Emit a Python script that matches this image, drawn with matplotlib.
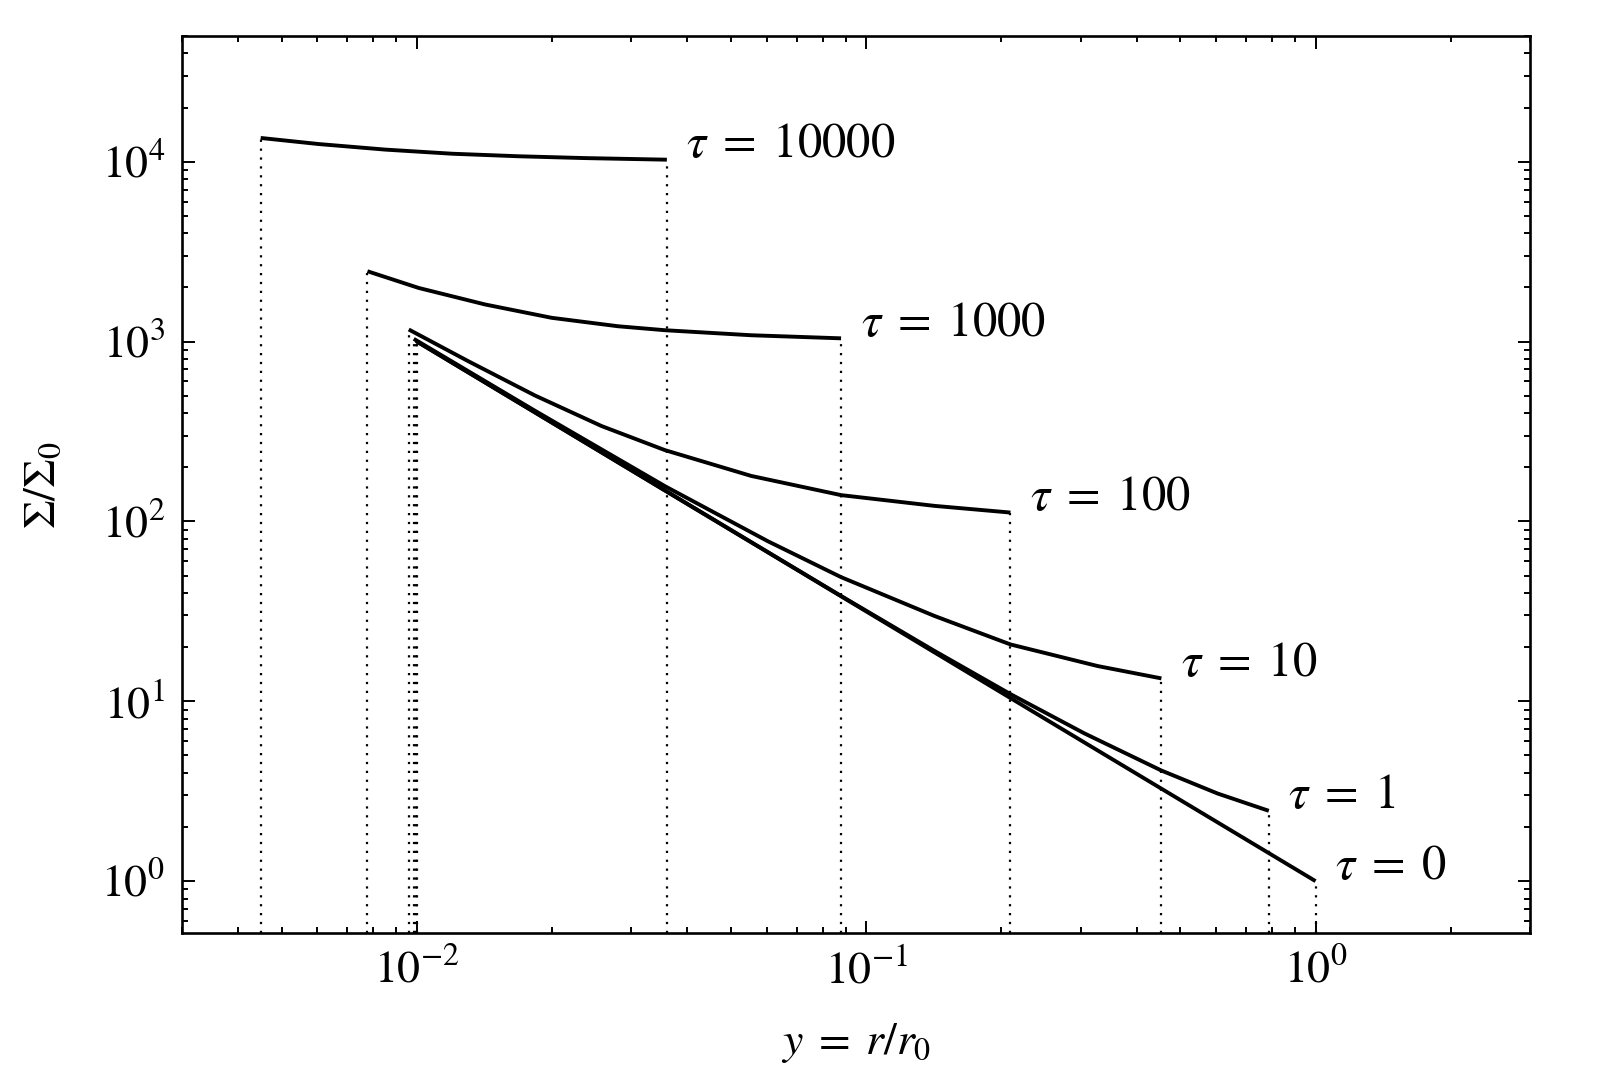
import matplotlib
matplotlib.use("Agg")
import matplotlib.pyplot as plt
from matplotlib.ticker import LogLocator, NullFormatter

plt.rcParams['font.family'] = 'serif'
plt.rcParams['font.serif'] = ['STIXGeneral', 'Liberation Serif', 'DejaVu Serif']
plt.rcParams['mathtext.fontset'] = 'stix'

# ---- data (y = r/r0, Sigma/Sigma0) ----
tau_labels = ["10000", "1000", "100", "10", "1", "0"]

x_tau10000 = [0.00449, 0.00605, 0.00851, 0.0120, 0.0168, 0.0237, 0.0360]
s_tau10000 = [13550, 12530, 11670, 11070, 10720, 10470, 10260]

x_tau1000 = [0.00776, 0.01009, 0.01419, 0.01995, 0.02805, 0.03565, 0.05546, 0.0879]
s_tau1000 = [2460, 1986, 1607, 1355, 1216, 1156, 1084, 1042]

x_tau100 = [0.00959, 0.01303, 0.01832, 0.02576, 0.03565, 0.05546, 0.0879, 0.1419, 0.2094]
s_tau100 = [1167, 776, 501, 339, 249, 179, 140, 122, 112]

x_tau10 = [0.00984, 0.01832, 0.03565, 0.0604, 0.0879, 0.1419, 0.2094, 0.3273, 0.4539]
s_tau10 = [1035, 412, 157, 77.6, 49.0, 29.8, 20.7, 15.7, 13.4]

x_tau1 = [0.00995, 0.03565, 0.0879, 0.1419, 0.2094, 0.3055, 0.4539, 0.6053, 0.787]
s_tau1 = [1007, 148.6, 38.5, 19.05, 10.96, 6.64, 4.12, 3.07, 2.46]

x_tau0 = [0.01, 0.0316, 0.1, 0.316, 1.0]
s_tau0 = [1000, 178, 31.6, 5.62, 1.0]

xs = [x_tau10000, x_tau1000, x_tau100, x_tau10, x_tau1, x_tau0]
ss = [s_tau10000, s_tau1000, s_tau100, s_tau10, s_tau1, s_tau0]

xlim = (3.0e-3, 3.0)
ylim = (0.514, 5.0e4)

fig = plt.figure(figsize=(16.02, 10.8), dpi=100)
ax = fig.add_axes([0.1136, 0.136, 0.955 - 0.1136, 0.9667 - 0.136])
ax.set_xscale('log')
ax.set_yscale('log')
ax.set_xlim(*xlim)
ax.set_ylim(*ylim)

for x, s, lab in zip(xs, ss, tau_labels):
    # dotted drop lines at both ends of each curve
    ax.vlines([x[0], x[-1]], ylim[0], [s[0], s[-1]], colors='black',
              linestyles=(0, (1, 3.0)), linewidth=1.6, zorder=1)
    ax.plot(x, s, color='black', linewidth=2.8, solid_capstyle='butt',
            solid_joinstyle='round', zorder=3)
    ax.annotate(r'$\tau\;=\;' + lab + '$', xy=(x[-1], s[-1]),
                xytext=(14, 10), textcoords='offset points',
                ha='left', va='center', fontsize=35)

ax.set_xlabel(r'$y\;=\;r/r_0$', fontsize=33, labelpad=20)
ax.set_ylabel(r'$\Sigma/\Sigma_0$', fontsize=33, labelpad=26)

ax.xaxis.set_major_locator(LogLocator(base=10, numticks=20))
ax.xaxis.set_minor_locator(LogLocator(base=10, subs=range(2, 10), numticks=20))
ax.yaxis.set_major_locator(LogLocator(base=10, numticks=20))
ax.yaxis.set_minor_locator(LogLocator(base=10, subs=range(2, 10), numticks=20))
ax.xaxis.set_minor_formatter(NullFormatter())
ax.yaxis.set_minor_formatter(NullFormatter())

ax.tick_params(which='both', direction='in', top=True, right=True, width=1.4)
ax.tick_params(which='major', length=9, labelsize=33)
ax.tick_params(axis='x', which='major', pad=12)
ax.tick_params(axis='y', which='major', pad=12)
ax.tick_params(which='minor', length=4.5)
for sp in ax.spines.values():
    sp.set_linewidth(1.9)

fig.savefig('out.png', dpi=100)
